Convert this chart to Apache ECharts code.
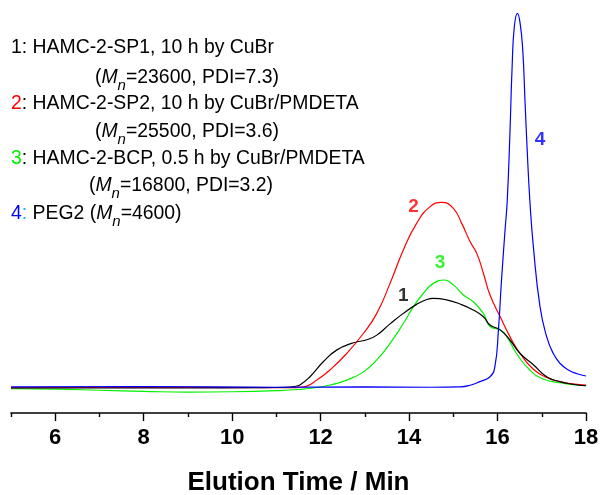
<!DOCTYPE html>
<html>
<head>
<meta charset="utf-8">
<script src="https://cdn.jsdelivr.net/npm/echarts@6/dist/echarts.min.js"></script>
<style>
html,body{margin:0;padding:0;background:#fff;}
#chart{width:603px;height:495px;}
</style>
</head>
<body>
<div id="chart"></div>
<script>
// ---- data (elution time in min, detector signal normalised so PEG2 peak = 100) ----
const blackTime = [5, 7, 9, 10.5, 11.2, 11.4, 11.53, 11.76, 12.06, 12.36, 12.7, 13.08, 13.27, 13.57, 13.87, 14.17, 14.4, 14.55, 14.85, 15.15, 15.45, 15.68, 15.83, 16.06, 16.28, 16.51, 16.81, 17.11, 17.41, 17.7, 18];
const blackSignal = [0, 0, 0, 0.1, 0.2, 0.4, 0.8, 3.0, 7.0, 10.1, 11.9, 13.0, 14.1, 17.1, 19.9, 22.3, 23.6, 23.9, 23.5, 22.4, 20.8, 19.0, 16.8, 15.5, 12.8, 9.2, 6.2, 3.0, 1.7, 1.0, 0.6];

const redTime = [5, 8, 11, 11.4, 11.53, 11.69, 11.91, 12.21, 12.59, 12.97, 13.27, 13.57, 13.87, 14.17, 14.47, 14.74, 15.0, 15.19, 15.38, 15.53, 15.68, 15.83, 16.06, 16.28, 16.51, 16.81, 17.11, 17.41, 17.7, 18];
const redSignal = [0.1, 0.2, 0.1, 0.1, 0.2, 0.5, 2.1, 4.8, 9.2, 14.6, 19.9, 27.9, 36.8, 43.9, 48.3, 49.5, 47.9, 43.9, 39.0, 35.9, 30.6, 24.8, 19.0, 13.7, 9.2, 5.0, 2.8, 1.7, 1.1, 0.8];

const greenTime = [5, 6, 7, 8, 9, 10, 11, 11.5, 11.83, 12.21, 12.59, 12.97, 13.27, 13.57, 13.87, 14.1, 14.32, 14.55, 14.8, 15.0, 15.23, 15.45, 15.68, 15.83, 16.06, 16.21, 16.43, 16.73, 17.03, 17.41, 17.7, 18];
const greenSignal = [-0.2, -0.3, -0.6, -0.9, -1.1, -1.0, -0.7, -0.4, 0, 0.8, 2.1, 4.3, 7.5, 11.9, 17.2, 21.7, 25.2, 27.9, 28.8, 27.5, 24.8, 23.0, 19.9, 16.4, 15.5, 13.7, 9.2, 4.8, 2.4, 1.4, 0.9, 0.6];

const blueTime = [5, 8, 11, 13, 14.5, 15.15, 15.4, 15.6, 15.83, 15.94, 16.02, 16.09, 16.17, 16.22, 16.28, 16.33, 16.38, 16.45, 16.51, 16.57, 16.62, 16.67, 16.73, 16.81, 16.96, 17.11, 17.26, 17.41, 17.6, 17.8, 18];
const blueSignal = [0.3, 0.4, 0.2, 0.3, 0.2, 0.3, 0.8, 1.7, 3.0, 5.7, 15.5, 28.8, 42.1, 50.1, 67.9, 85.7, 96.4, 99.9, 97.3, 90.1, 76.8, 63.5, 50.1, 37.7, 21.7, 13.7, 9.2, 6.6, 4.8, 3.8, 3.2];

const majorTicks = [6, 8, 10, 12, 14, 16, 18];
const minorTicks = [5, 7, 9, 11, 13, 15, 17];

// curve number labels: [time, signal, text]
const peakLabels = [[13.87, 24.5, '1'], [14.10, 48.2, '2'], [14.70, 33.4, '3'], [16.96, 66.3, '4']];

const legendLines = [
  '{k|1: HAMC-2-SP1, 10 h by CuBr}',
  '{k|(}{i|M}{s|n}{k|=23600, PDI=7.3)}',
  '{r|2}{k|: HAMC-2-SP2, 10 h by CuBr/PMDETA}',
  '{k|(}{i|M}{s|n}{k|=25500, PDI=3.6)}',
  '{g|3}{k|: HAMC-2-BCP, 0.5 h by CuBr/PMDETA}',
  '{k|(}{i|M}{s|n}{k|=16800, PDI=3.2)}',
  '{b|4}{c|:}{k| PEG2 (}{i|M}{s|n}{k|=4600)}'
];

// ---- styling ----
const FONT = '"Liberation Sans", Arial, Helvetica, sans-serif';
const GREEN = '#00f000';
const colors = { '1': '#000000', '2': '#ff0000', '3': GREEN, '4': '#0000ff' };
const legendX = [11, 95, 11, 95, 11, 89, 11];
const legendY = [48, 78, 103.5, 132, 159, 186, 214];
const FS = 19.4;

const zip = (a, b) => a.map((x, i) => [x, b[i]]);

const base = { fontFamily: FONT, fontSize: FS, lineHeight: 30, color: '#000' };
const rich = {
  k: Object.assign({}, base),
  i: Object.assign({}, base, { fontStyle: 'italic' }),
  s: { fontFamily: FONT, fontSize: 15, lineHeight: 15, fontStyle: 'italic', color: '#000', padding: [15, 0, 0, 0] },
  r: Object.assign({}, base, { color: '#ff0000' }),
  g: Object.assign({}, base, { color: GREEN }),
  b: Object.assign({}, base, { color: '#0000ff' }),
  c: Object.assign({}, base, { color: '#00bfff' })
};

const titles = legendLines.map((t, i) => ({
  text: t,
  left: legendX[i],
  top: legendY[i] - 15,
  padding: 0,
  textStyle: { rich: rich, fontFamily: FONT, fontSize: FS, fontWeight: 'normal', lineHeight: 30 }
}));

function lineSeries(t, v, color) {
  return {
    type: 'line', data: zip(t, v), showSymbol: false, smooth: 0.5,
    lineStyle: { color: color, width: 1.2 }, itemStyle: { color: color }, z: 3
  };
}

const chart = echarts.init(document.getElementById('chart'), null, { renderer: 'canvas' });
chart.setOption({
  animation: false,
  backgroundColor: '#fff',
  title: titles,
  grid: { left: 11, right: 17, top: 0, bottom: 82, containLabel: false, outerBoundsMode: 'none' },
  xAxis: [{
    type: 'value', min: 5, max: 18, interval: 1,
    name: 'Elution Time / Min', nameLocation: 'middle', nameGap: 57,
    nameTextStyle: { fontFamily: FONT, fontSize: 26, fontWeight: 'bold', color: '#000' },
    axisLine: { show: true, onZero: false, lineStyle: { color: '#000', width: 1.6 } },
    axisTick: { show: true, customValues: majorTicks, length: 8, lineStyle: { color: '#000', width: 1.4 } },
    axisLabel: { show: true, customValues: majorTicks, margin: 14, fontFamily: FONT, fontSize: 22, fontWeight: 'bold', color: '#000' },
    splitLine: { show: false }
  }, {
    type: 'value', min: 5, max: 18, interval: 1, position: 'bottom',
    axisLine: { show: false, onZero: false },
    axisTick: { show: true, customValues: minorTicks, length: 4, lineStyle: { color: '#000', width: 1.4 } },
    axisLabel: { show: false },
    splitLine: { show: false }
  }],
  yAxis: { type: 'value', min: -6.667, max: 103.47, show: false, splitLine: { show: false } },
  series: [
    lineSeries(greenTime, greenSignal, GREEN),
    lineSeries(redTime, redSignal, '#ff0000'),
    lineSeries(blackTime, blackSignal, '#000000'),
    lineSeries(blueTime, blueSignal, '#0000ff'),
    {
      type: 'scatter', symbolSize: 0, silent: true, z: 5,
      data: peakLabels.map(p => ({
        value: [p[0], p[1]], name: p[2],
        label: { show: true, position: 'inside', formatter: p[2], color: colors[p[2]],
                 fontFamily: FONT, fontSize: 19, fontWeight: 'bold' }
      }))
    }
  ]
});
</script>
</body>
</html>
